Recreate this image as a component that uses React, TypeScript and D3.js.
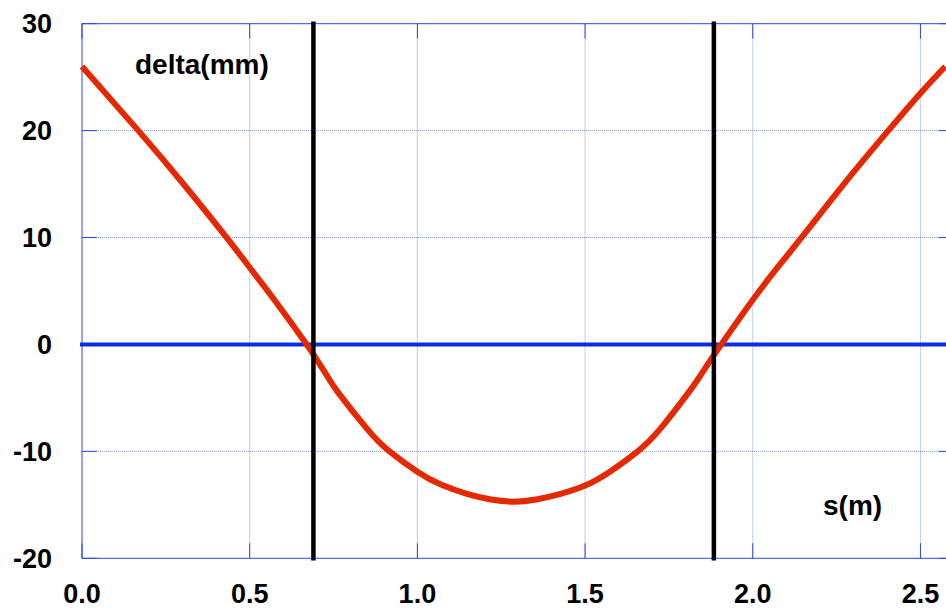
import React from "react";
import * as d3 from "d3";

const sValues = [
  0, 0.168, 0.3, 0.426, 0.5, 0.58, 0.67, 0.69, 0.73, 0.764, 0.85, 0.913, 1.0, 1.07, 1.15, 1.22, 1.287,
  1.354, 1.424, 1.5, 1.574, 1.657, 1.724, 1.806, 1.844, 1.884, 1.906, 1.996, 2.074, 2.148, 2.274, 2.404, 2.5, 2.574,
];
const deltaValues = [
  26, 20, 15.1, 10.2, 7.2, 3.9, 0, -0.95, -2.9, -4.5, -7.9, -9.9, -11.9, -13.1, -14.0, -14.5, -14.7,
  -14.5, -14.0, -13.2, -11.9, -10.0, -7.9, -4.6, -2.9, -1.0, 0, 4.0, 7.2, 10.1, 15.1, 20, 23.5, 26,
];
const supportPositions = [0.69, 1.884];
const xTicks = [0, 0.5, 1.0, 1.5, 2.0, 2.5];
const yTicks = [-20, -10, 0, 10, 20, 30];
const xDomain = [0, 2.6];
const yDomain = [-20, 30];

const W = 946;
const H = 610;
const FONT = "'Liberation Sans', Arial, Helvetica, sans-serif";

export default function App() {
  const x = d3.scaleLinear().domain(xDomain).range([82, 954]);
  const y = d3.scaleLinear().domain(yDomain).range([558.3, 23.7]);
  const pts = sValues.map((s, i) => [s, deltaValues[i]] as [number, number]);
  const line = d3
    .line<[number, number]>()
    .x((d) => x(d[0]))
    .y((d) => y(d[1]))
    .curve(d3.curveNatural);

  const x0 = x(xDomain[0]);
  const x1 = x(xDomain[1]);
  const y0 = y(yDomain[0]);
  const y1 = y(yDomain[1]);
  const gridColor = "#5470e6";

  return (
    <svg width={W} height={H} style={{ position: "absolute", left: 0, top: 0, background: "#fff" }}>
      <rect x={0} y={0} width={W} height={H} fill="#fff" />
      {xTicks.filter((t) => t > 0).map((t) => (
        <line key={"gx" + t} x1={x(t)} x2={x(t)} y1={y1} y2={y0} stroke={gridColor} strokeWidth={1} strokeDasharray="1 1" opacity={0.7} />
      ))}
      {yTicks.filter((t) => t > yDomain[0] && t < yDomain[1]).map((t) => (
        <line key={"gy" + t} x1={x0} x2={x1} y1={y(t)} y2={y(t)} stroke={gridColor} strokeWidth={1} strokeDasharray="1 1" opacity={0.7} />
      ))}
      <rect x={x0} y={y1} width={x1 - x0} height={y0 - y1} fill="none" stroke="#2a4ae0" strokeWidth={1} />
      {yTicks.map((t) => (
        <g key={"ty" + t}>
          <line x1={x0} x2={x0 + 15} y1={y(t)} y2={y(t)} stroke="#2a4ae0" strokeWidth={1} />
          <line x1={x1 - 15} x2={x1} y1={y(t)} y2={y(t)} stroke="#2a4ae0" strokeWidth={1} />
        </g>
      ))}
      {xTicks.map((t) => (
        <g key={"tx" + t}>
          <line x1={x(t)} x2={x(t)} y1={y0} y2={y0 - 15} stroke="#2a4ae0" strokeWidth={1} />
          <line x1={x(t)} x2={x(t)} y1={y1} y2={y1 + 15} stroke="#2a4ae0" strokeWidth={1} />
        </g>
      ))}
      <line x1={x0} x2={x1} y1={y(0)} y2={y(0)} stroke="#0a2ee0" strokeWidth={4} strokeLinecap="square" />
      <path d={line(pts) || ""} fill="none" stroke="#e62800" strokeWidth={6} strokeLinecap="butt" strokeLinejoin="round" />
      {supportPositions.map((s) => (
        <line key={"s" + s} x1={x(s)} x2={x(s)} y1={y1} y2={y0} stroke="#000" strokeWidth={4.5} strokeLinecap="square" />
      ))}
      {yTicks.map((t) => (
        <text key={"ly" + t} x={52} y={y(t)} dy="0.36em" textAnchor="end" fontFamily={FONT} fontWeight="bold" fontSize={27} fill="#000">
          {String(t)}
        </text>
      ))}
      {xTicks.map((t) => (
        <text key={"lx" + t} x={x(t)} y={603} textAnchor="middle" fontFamily={FONT} fontWeight="bold" fontSize={27} fill="#000">
          {t.toFixed(1)}
        </text>
      ))}
      <text x={135} y={74} fontFamily={FONT} fontWeight="bold" fontSize={28} fill="#000">delta(mm)</text>
      <text x={823} y={515} fontFamily={FONT} fontWeight="bold" fontSize={28} fill="#000">s(m)</text>
    </svg>
  );
}
